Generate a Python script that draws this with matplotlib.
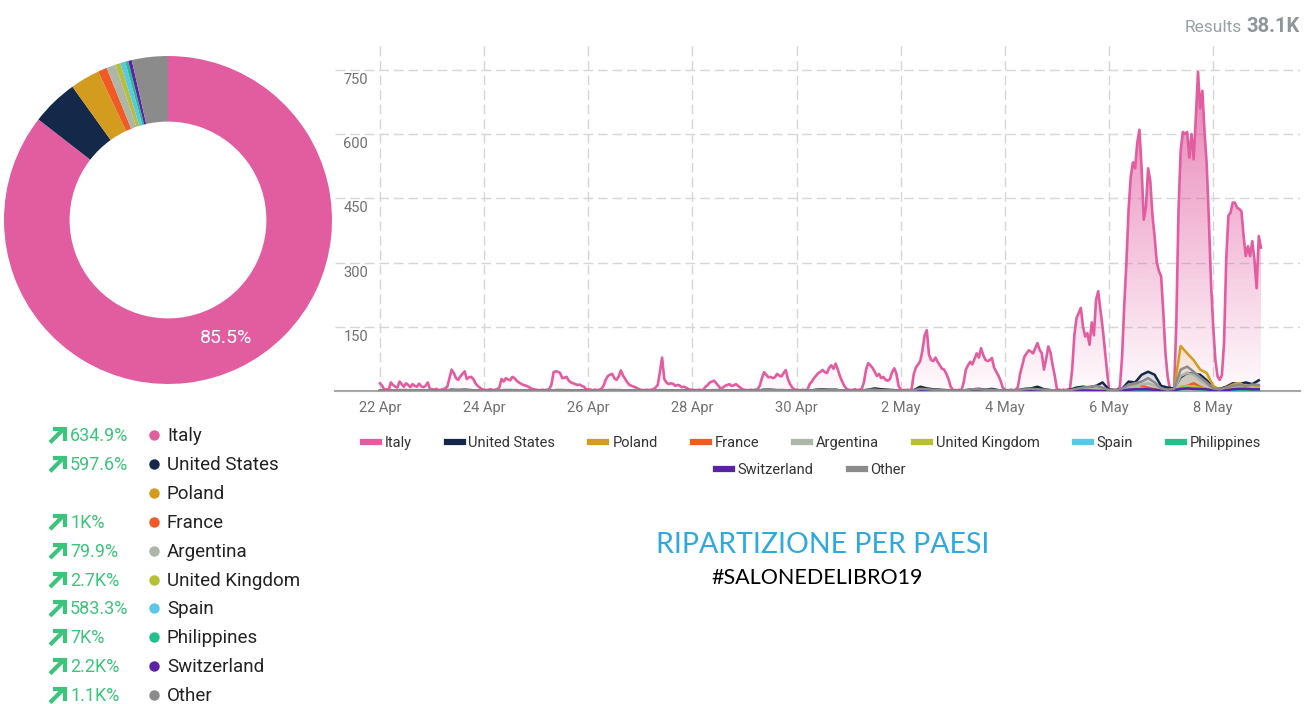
import numpy as np
import pandas as pd
import matplotlib
matplotlib.use("Agg")
import matplotlib.pyplot as plt
import matplotlib.dates as mdates
from matplotlib.lines import Line2D
from matplotlib.colors import to_rgb

plt.rcParams['font.family'] = ['Roboto', 'DejaVu Sans']

countries = ["Italy", "United States", "Poland", "France", "Argentina",
             "United Kingdom", "Spain", "Philippines", "Switzerland", "Other"]
colors = ["#e25da0", "#14294a", "#d39c1e", "#f15a24", "#adb6a8",
          "#b7bf34", "#5cc6e6", "#22c18c", "#5b22a6", "#8b8b8b"]
share = [85.5, 4.6, 2.9, 0.9, 0.9, 0.5, 0.5, 0.3, 0.35, 3.55]
growth = ["634.9%", "597.6%", "", "1K%", "79.9%", "2.7K%", "583.3%", "7K%", "2.2K%", "1.1K%"]
total_label = "38.1K"

start = "2019-04-22 00:00"

# Italy, hourly mentions
italy = [
    18, 12, 3, 4, 3, 20, 14, 10, 8, 22, 16, 10, 18, 14, 9, 16, 12, 10, 17, 11, 9, 12, 20, 5,
    4, 3, 5, 2, 3, 4, 6, 10, 30, 50, 42, 30, 26, 34, 40, 46, 28, 32, 33, 28, 18, 12, 8, 4,
    3, 2, 3, 4, 2, 3, 4, 8, 28, 22, 30, 27, 25, 33, 30, 24, 20, 17, 14, 13, 11, 8, 5, 4,
    3, 2, 2, 3, 2, 3, 4, 15, 44, 46, 45, 42, 30, 31, 33, 24, 20, 18, 16, 14, 15, 12, 10, 4,
    4, 3, 2, 3, 2, 3, 5, 12, 26, 35, 38, 40, 30, 26, 34, 48, 36, 28, 20, 14, 12, 10, 8, 5,
    3, 2, 2, 3, 2, 3, 4, 8, 14, 45, 78, 28, 20, 16, 18, 17, 12, 14, 13, 9, 10, 8, 5, 3,
    3, 2, 2, 3, 2, 3, 10, 14, 20, 22, 24, 18, 12, 5, 8, 12, 14, 16, 12, 13, 16, 12, 8, 4,
    3, 2, 2, 3, 2, 3, 4, 12, 30, 44, 38, 32, 33, 30, 32, 40, 36, 34, 42, 49, 28, 16, 8, 3,
    3, 2, 2, 3, 2, 3, 16, 22, 30, 36, 42, 45, 49, 44, 42, 54, 60, 52, 64, 50, 34, 22, 12, 5,
    3, 2, 3, 4, 2, 3, 5, 20, 50, 65, 60, 54, 45, 35, 40, 30, 33, 26, 24, 28, 44, 53, 40, 12,
    3, 2, 2, 3, 2, 4, 40, 55, 62, 70, 95, 130, 142, 85, 72, 70, 78, 68, 60, 52, 50, 40, 28, 10,
    3, 2, 2, 3, 2, 20, 50, 60, 68, 62, 75, 88, 78, 100, 84, 73, 70, 72, 77, 55, 45, 36, 24, 8,
    3, 2, 2, 3, 2, 3, 10, 40, 60, 80, 88, 95, 92, 88, 100, 112, 96, 88, 50, 75, 104, 90, 60, 35,
    3, 3, 2, 3, 2, 3, 6, 50, 130, 170, 182, 194, 150, 127, 135, 108, 160, 130, 213, 233, 190, 150, 100, 50,
    4, 3, 3, 2, 3, 10, 80, 200, 300, 424, 500, 534, 520, 580, 610, 520, 400, 430, 520, 490, 410, 360, 300, 280,
    268, 185, 88, 34, 6, 5, 5, 160, 420, 560, 605, 600, 605, 545, 600, 541, 640, 745, 660, 701, 605, 530, 400, 250,
    151, 73, 34, 26, 37, 112, 307, 409, 417, 440, 440, 428, 425, 420, 362, 315, 338, 315, 350, 307, 240, 362, 335,
]

# other countries, every 3 hours
united_states = [
    1, 0, 1, 2, 2, 1, 2, 1, 0, 0, 1, 3, 2, 3, 2, 1,
    0, 0, 1, 2, 2, 2, 1, 1, 0, 0, 1, 2, 2, 1, 1, 1,
    0, 0, 1, 2, 2, 2, 1, 1, 0, 0, 1, 2, 1, 1, 1, 1,
    0, 0, 1, 2, 2, 1, 1, 1, 0, 0, 1, 3, 3, 2, 2, 1,
    0, 0, 1, 3, 4, 3, 3, 1, 0, 0, 1, 3, 6, 4, 3, 2,
    0, 0, 2, 10, 6, 4, 3, 2, 0, 0, 2, 4, 5, 3, 5, 2,
    0, 0, 2, 5, 6, 10, 4, 2, 1, 1, 3, 8, 10, 8, 12, 20,
    3, 2, 5, 22, 20, 38, 45, 38, 12, 8, 6, 32, 42, 40, 38, 25,
    8, 5, 10, 18, 16, 20, 16, 25,
]
poland = [
    0, 0, 0, 1, 1, 0, 1, 0, 0, 0, 0, 1, 1, 1, 0, 0,
    0, 0, 0, 1, 0, 1, 0, 0, 0, 0, 0, 1, 1, 0, 0, 0,
    0, 0, 0, 0, 1, 1, 0, 0, 0, 0, 0, 1, 1, 0, 0, 0,
    0, 0, 0, 1, 0, 1, 0, 0, 0, 0, 0, 1, 1, 1, 0, 0,
    0, 0, 0, 1, 1, 1, 1, 0, 0, 0, 0, 1, 2, 1, 1, 0,
    0, 0, 1, 2, 2, 1, 1, 0, 0, 0, 1, 2, 2, 1, 1, 0,
    0, 0, 1, 2, 3, 2, 1, 1, 0, 0, 1, 2, 3, 2, 3, 2,
    1, 0, 1, 3, 5, 6, 5, 4, 2, 1, 5, 105, 88, 72, 50, 42,
    12, 3, 8, 15, 18, 12, 14, 10,
]
france = [
    0, 0, 0, 0, 1, 0, 0, 0, 0, 0, 0, 1, 0, 1, 0, 0,
    0, 0, 0, 0, 1, 0, 0, 0, 0, 0, 0, 1, 0, 0, 0, 0,
    0, 0, 0, 0, 1, 0, 0, 0, 0, 0, 0, 1, 0, 0, 0, 0,
    0, 0, 0, 0, 1, 0, 0, 0, 0, 0, 0, 1, 1, 0, 0, 0,
    0, 0, 0, 1, 1, 0, 0, 0, 0, 0, 0, 1, 1, 1, 0, 0,
    0, 0, 1, 1, 1, 1, 0, 0, 0, 0, 0, 1, 1, 1, 0, 0,
    0, 0, 1, 1, 2, 1, 1, 0, 0, 0, 1, 2, 3, 2, 3, 1,
    0, 0, 1, 8, 18, 12, 8, 4, 2, 0, 1, 8, 12, 18, 10, 4,
    1, 0, 2, 4, 5, 4, 3, 3,
]
argentina = [
    0, 0, 1, 1, 1, 1, 1, 0, 0, 0, 0, 1, 2, 1, 1, 0,
    0, 0, 0, 1, 1, 1, 0, 0, 0, 0, 0, 1, 1, 1, 1, 0,
    0, 0, 0, 1, 1, 1, 0, 0, 0, 0, 0, 1, 1, 0, 0, 0,
    0, 0, 0, 1, 1, 1, 0, 0, 0, 0, 0, 1, 1, 1, 1, 0,
    0, 0, 0, 1, 2, 1, 1, 0, 0, 0, 0, 1, 2, 1, 1, 0,
    0, 0, 1, 2, 2, 1, 1, 0, 0, 0, 1, 2, 2, 1, 1, 0,
    0, 0, 1, 2, 2, 2, 1, 1, 0, 0, 1, 3, 4, 5, 6, 4,
    1, 1, 3, 8, 12, 15, 18, 12, 3, 1, 3, 35, 42, 38, 25, 15,
    3, 2, 5, 8, 10, 8, 8, 6,
]
united_kingdom = [
    0, 0, 0, 1, 0, 0, 0, 0, 0, 0, 0, 0, 1, 0, 0, 0,
    0, 0, 0, 0, 0, 1, 0, 0, 0, 0, 0, 1, 0, 0, 0, 0,
    0, 0, 0, 0, 1, 0, 0, 0, 0, 0, 0, 0, 1, 0, 0, 0,
    0, 0, 0, 1, 0, 0, 0, 0, 0, 0, 0, 0, 1, 0, 0, 0,
    0, 0, 0, 1, 0, 1, 0, 0, 0, 0, 0, 1, 1, 0, 0, 0,
    0, 0, 0, 1, 1, 0, 0, 0, 0, 0, 0, 1, 1, 0, 0, 0,
    0, 0, 0, 1, 1, 1, 0, 0, 0, 0, 1, 1, 2, 1, 1, 0,
    0, 0, 1, 3, 5, 4, 3, 2, 1, 0, 2, 10, 12, 10, 8, 5,
    1, 0, 3, 6, 8, 5, 5, 4,
]
spain = [
    0, 0, 0, 0, 1, 0, 0, 0, 0, 0, 0, 0, 0, 1, 0, 0,
    0, 0, 0, 1, 0, 0, 0, 0, 0, 0, 0, 0, 1, 0, 0, 0,
    0, 0, 0, 0, 0, 1, 0, 0, 0, 0, 0, 1, 0, 0, 0, 0,
    0, 0, 0, 0, 1, 0, 0, 0, 0, 0, 0, 1, 0, 0, 0, 0,
    0, 0, 0, 0, 1, 1, 0, 0, 0, 0, 0, 1, 1, 0, 0, 0,
    0, 0, 0, 1, 1, 0, 0, 0, 0, 0, 0, 0, 1, 1, 0, 0,
    0, 0, 0, 1, 1, 0, 0, 0, 0, 0, 0, 1, 2, 1, 1, 0,
    0, 0, 1, 3, 4, 3, 2, 1, 1, 0, 1, 6, 8, 6, 5, 3,
    0, 0, 1, 3, 4, 3, 4, 3,
]
philippines = [
    0, 0, 0, 0, 0, 0, 0, 0, 0, 0, 0, 0, 0, 0, 0, 0,
    0, 0, 0, 0, 0, 0, 0, 0, 0, 0, 0, 0, 0, 0, 0, 0,
    0, 0, 0, 0, 0, 0, 0, 0, 0, 0, 0, 0, 0, 0, 0, 0,
    0, 0, 0, 0, 0, 0, 0, 0, 0, 0, 0, 0, 0, 0, 0, 0,
    0, 0, 0, 0, 0, 0, 0, 0, 0, 0, 0, 0, 1, 0, 0, 0,
    0, 0, 0, 0, 1, 0, 0, 0, 0, 0, 0, 0, 0, 1, 0, 0,
    0, 0, 0, 1, 0, 0, 0, 0, 0, 0, 0, 1, 1, 1, 0, 0,
    0, 0, 1, 2, 3, 2, 2, 1, 0, 0, 1, 4, 6, 5, 4, 2,
    0, 0, 1, 2, 3, 2, 2, 1,
]
switzerland = [
    0, 0, 0, 0, 0, 0, 0, 0, 0, 0, 0, 0, 0, 0, 0, 0,
    0, 0, 0, 0, 0, 0, 0, 0, 0, 0, 0, 0, 0, 0, 0, 0,
    0, 0, 0, 0, 0, 0, 0, 0, 0, 0, 0, 0, 0, 0, 0, 0,
    0, 0, 0, 0, 0, 0, 0, 0, 0, 0, 0, 0, 1, 0, 0, 0,
    0, 0, 0, 0, 0, 0, 0, 0, 0, 0, 0, 0, 1, 0, 0, 0,
    0, 0, 0, 0, 1, 0, 0, 0, 0, 0, 0, 0, 0, 0, 0, 0,
    0, 0, 0, 1, 0, 0, 0, 0, 0, 0, 0, 1, 1, 1, 0, 0,
    0, 0, 1, 3, 4, 4, 4, 3, 1, 0, 2, 5, 6, 5, 5, 4,
    1, 0, 2, 4, 5, 5, 4, 4,
]
other = [
    1, 0, 1, 2, 2, 2, 1, 1, 0, 0, 1, 2, 3, 2, 2, 1,
    0, 0, 1, 2, 2, 1, 1, 1, 0, 0, 1, 2, 2, 2, 1, 1,
    0, 0, 1, 2, 2, 1, 1, 1, 0, 0, 1, 2, 2, 1, 1, 0,
    0, 0, 1, 1, 2, 1, 1, 1, 0, 0, 1, 2, 2, 2, 2, 1,
    0, 0, 1, 2, 3, 3, 2, 1, 0, 0, 1, 3, 3, 2, 2, 1,
    0, 0, 2, 5, 4, 3, 2, 1, 0, 0, 2, 4, 4, 3, 3, 1,
    0, 0, 2, 4, 5, 4, 3, 2, 1, 1, 2, 5, 8, 10, 12, 8,
    2, 2, 5, 15, 18, 22, 30, 20, 6, 3, 5, 50, 57, 45, 32, 20,
    6, 4, 8, 12, 14, 12, 15, 14,
]
minor = [united_states, poland, france, argentina, united_kingdom,
         spain, philippines, switzerland, other]

yticks = [150, 300, 450, 600, 750]

W, H = 1313, 704
fig = plt.figure(figsize=(W / 100, H / 100), dpi=100)

# canvas in pixel coordinates for free text
canvas = fig.add_axes([0, 0, 1, 1], zorder=0)
canvas.set_xlim(0, W)
canvas.set_ylim(H, 0)
canvas.axis("off")

# donut
pie_ax = fig.add_axes([4 / W, 1 - 384 / H, 328 / W, 328 / H], zorder=1)
pie_ax.pie(share, colors=colors, startangle=90, counterclock=False,
           wedgeprops=dict(width=0.4, linewidth=0),
           autopct=lambda p: f"{p:.1f}%" if p > 50 else "",
           pctdistance=0.8, textprops=dict(color="white", fontsize=14))
pie_ax.set_xlim(-1, 1)
pie_ax.set_ylim(-1, 1)
pie_ax.set_aspect("equal")

# left legend with growth
green = "#3cc47c"
for i, (name, col, g) in enumerate(zip(countries, colors, growth)):
    y = 435 + 28.9 * i
    canvas.plot([154], [y], "o", ms=7.5, color=col, mec="none")
    canvas.text(167, y + 1, name, ha="left", va="center", fontsize=13.5, color="#222222")
    if g:
        canvas.plot([50, 63.5], [y + 7.5, y - 6], color=green, lw=3, solid_capstyle="butt")
        canvas.plot([53, 64.5, 64.5], [y - 6, y - 6, y + 5.5], color=green, lw=3,
                    solid_joinstyle="miter", solid_capstyle="butt")
        canvas.text(70, y + 1, g, ha="left", va="center", fontsize=13, color=green)

# line chart
ax = fig.add_axes([335 / W, 1 - 391 / H, 965 / W, 346 / H], zorder=1)
ax.set_facecolor("none")
hours = pd.date_range(start, periods=len(italy), freq="h")
hours3 = pd.date_range(start, periods=len(other), freq="3h")
xmin, xmax = pd.Timestamp("2019-04-21 03:15"), pd.Timestamp("2019-05-09 16:00")
ytop = 808

fill = ax.fill_between(hours, 0, italy, color="none", lw=0)
rgba = np.zeros((256, 1, 4))
rgba[..., :3] = to_rgb(colors[0])
rgba[..., 3] = np.linspace(0.03, 0.85, 256)[:, None]
im = ax.imshow(rgba, aspect="auto", origin="lower", zorder=1,
               extent=[mdates.date2num(xmin), mdates.date2num(xmax), 0, ytop])
im.set_clip_path(fill.get_paths()[0], transform=ax.transData)
ax.plot(hours, italy, color=colors[0], lw=1.9, zorder=3)

for vals, col in zip(minor, colors[1:]):
    ax.fill_between(hours3, 0, vals, color=col, alpha=0.12, lw=0, zorder=2)
    ax.plot(hours3, vals, color=col, lw=1.8, zorder=3)

ax.set_xlim(xmin, xmax)
ax.set_ylim(0, ytop)
ax.set_xticks(pd.date_range("2019-04-22", "2019-05-08", freq="2D"))
ax.xaxis.set_major_formatter(mdates.DateFormatter("%-d %b"))
ax.set_yticks(yticks)
ax.tick_params(axis="x", length=0, pad=7, labelsize=10.5, labelcolor="#707070")
ax.tick_params(axis="y", length=0, labelleft=False)
ax.grid(True, ls=(0, (7, 3.5)), color="#d6d6d6", lw=1)
ax.set_axisbelow(True)
for s in ["top", "right", "left"]:
    ax.spines[s].set_visible(False)
ax.spines["bottom"].set_color("#a8a8a8")
ax.spines["bottom"].set_linewidth(1.5)
for v in yticks:
    ax.annotate(f"{v}", xy=(0, v), xycoords=("axes fraction", "data"),
                xytext=(33, -10), textcoords="offset pixels",
                ha="right", va="center", fontsize=10.5, color="#707070")

handles = [Line2D([], [], color=c, lw=4.5) for c in colors]
leg_kw = dict(loc="center", bbox_transform=fig.transFigure, frameon=False, fontsize=10.5,
              handlelength=1.1, handletextpad=0.4, columnspacing=2.4, labelcolor="#333333")
leg1 = ax.legend(handles[:8], countries[:8], ncol=8, bbox_to_anchor=(812 / W, 1 - 443 / H), **leg_kw)
ax.add_artist(leg1)
ax.legend(handles[8:], countries[8:], ncol=2, bbox_to_anchor=(811 / W, 1 - 470 / H), **leg_kw)

# titles
canvas.text(823, 545, "RIPARTIZIONE PER PAESI", ha="center", va="center",
            fontsize=20.5, color="#2ea8e0", family="Lato")
canvas.text(817, 578, "#SALONEDELIBRO19", ha="center", va="center",
            fontsize=15.5, color="black", family="Lato")
canvas.text(1300, 26, total_label, ha="right", va="center", fontsize=14.5,
            fontweight="bold", color="#8e969a")
canvas.text(1242, 27, "Results", ha="right", va="center", fontsize=12.5, color="#9aa1a4")

fig.savefig("out.png", dpi=100)
